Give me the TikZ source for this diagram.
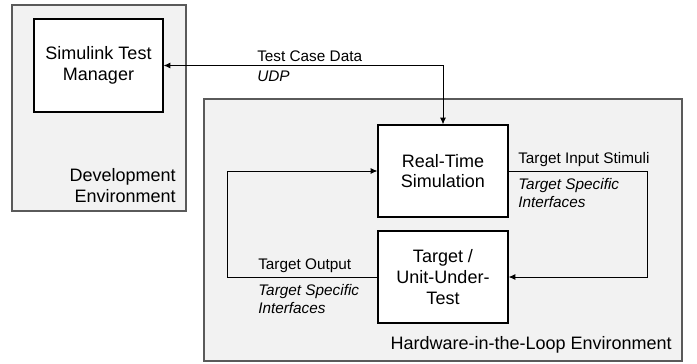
\documentclass[tikz,border=0pt]{standalone}
\usepackage{fontspec}
\setmainfont{Liberation Sans}
\usetikzlibrary{arrows.meta}

\definecolor{envfill}{RGB}{242,242,242}
\definecolor{envline}{RGB}{90,90,90}

\tikzset{
  envbox/.style={draw=envline, fill=envfill, line width=0.9pt},
  blockbox/.style={draw=black, fill=white, line width=0.9pt, align=center, inner sep=0pt,
    font=\fontsize{13.5}{15.5}\selectfont},
  envlabel/.style={inner sep=0pt, align=right, font=\fontsize{13.5}{15.5}\selectfont},
  siglabel/.style={inner sep=0pt, align=left, font=\fontsize{11.5}{13.5}\selectfont},
  ifclabel/.style={siglabel, font=\fontsize{11.5}{13.5}\selectfont\itshape},
  signal/.style={line width=0.75pt, -{Latex[length=5pt,width=4.5pt]}},
}

\begin{document}
\begin{tikzpicture}[x=0.75pt,y=0.75pt,yscale=-1,xscale=1]
\useasboundingbox (0,0) rectangle (697,364);

%Shape: Rectangle [Development Environment]
\draw [envbox] (12,5) rectangle (186,211);
%Shape: Rectangle [Hardware-in-the-Loop Environment]
\draw [envbox] (204,99) rectangle (682,361);

% Blocks
\node [blockbox, minimum width=129*0.75pt, minimum height=93*0.75pt] (stm) at (98.5,65.5) {Simulink Test\\Manager};
\node [blockbox, minimum width=130*0.75pt, minimum height=92*0.75pt] (rts) at (443,171) {Real-Time\\Simulation};
\node [blockbox, minimum width=130*0.75pt, minimum height=92*0.75pt] (tgt) at (443,277) {Target /\\Unit-Under-\\Test};

% Loop corners
\coordinate (stimR) at (647,171);
\coordinate (outL) at (227,277);

% Connectors
\draw [signal, {Latex[length=5pt,width=4.5pt]}-{Latex[length=5pt,width=4.5pt]}] (stm.east) -| (rts.north);
\draw [signal] (rts.east) -- (stimR) |- (tgt.east);
\draw [signal] (tgt.west) -- (outL) |- (rts.west);

% Text Node
\node [siglabel, anchor=south west] (tcd) at (257,62) {Test Case Data};
% Text Node
\node [ifclabel, anchor=north west] (udp) at (257,71) {UDP};
% Text Node
\node [siglabel, anchor=south west] (tis) at (518,167) {Target Input Stimuli};
% Text Node
\node [ifclabel, anchor=north west] (tsiR) at (518,178) {Target Specific\\Interfaces};
% Text Node
\node [siglabel, anchor=south west] (tout) at (258,273) {Target Output};
% Text Node
\node [ifclabel, anchor=north west] (tsiL) at (258,284) {Target Specific\\Interfaces};
% Text Node
\node [envlabel, anchor=south east] (dev) at (176,203) {Development\\Environment};
% Text Node
\node [envlabel, anchor=south east] (hil) at (672,353) {Hardware-in-the-Loop Environment};

\end{tikzpicture}
\end{document}
